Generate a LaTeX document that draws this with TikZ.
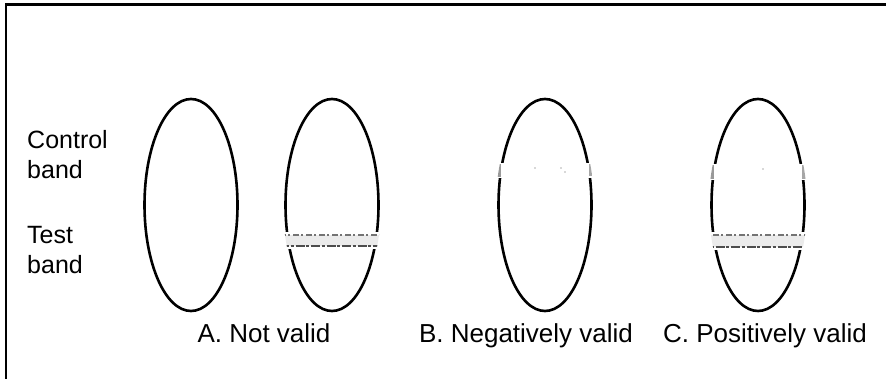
\documentclass[tikz,border=0pt]{standalone}
\usepackage{fontspec}
\setmainfont{Liberation Sans}
\usetikzlibrary{shapes.geometric}
\begin{document}
\begin{tikzpicture}[x=1pt,y=-1pt,
  strip/.style={draw=black, line width=2.6pt, ellipse, inner sep=0pt, minimum width=93pt, minimum height=212pt},
  lbl/.style={inner sep=0pt, font=\fontsize{25}{30}\selectfont},
  captext/.style={inner sep=0pt, font=\fontsize{26}{31}\selectfont},
  frame/.style={line width=2.4pt, black}]
\useasboundingbox (0,0) rectangle (886,379);
\fill[white] (0,0) rectangle (886,379);
% frame (left and top edges visible)
\coordinate (fl) at (6,379);
\coordinate (fc) at (6,4.5);
\coordinate (fr) at (886,4.5);
\draw[frame] (fl) -- (fc) -- (fr);
% side labels
\node[lbl, anchor=north west, align=left] (ctl) at (27,130) {Control\\band};
\node[lbl, anchor=north west, align=left] (tst) at (27,226) {Test\\band};
% strips
\node[strip] (s1) at (191,205) {};
\node[strip] (s2) at (332,205) {};
\node[strip] (s3) at (545,205) {};
\node[strip] (s4) at (758,205) {};
% test band on strip 2
\begin{scope}
  \clip (332,205) ellipse [x radius=49, y radius=106];
  \fill[white] (280,232) rectangle (385,249);
  \fill[black!8] (280,235) rectangle (385,246);
  \draw[black!55, line width=1.3pt, dash pattern=on 6pt off 2pt on 2pt off 3pt] (280,235) -- (385,235);
  \draw[black!70, line width=1.5pt, dash pattern=on 9pt off 1.5pt on 3pt off 2pt] (280,246) -- (385,246);
\end{scope}
% control band on strip 3
\begin{scope}
  \clip (545,205) ellipse [x radius=49, y radius=106];
  \fill[white] (490,163) rectangle (600,178);
  \fill[black!40] (497,164) rectangle (501,177);
  \fill[black!35] (589,164) rectangle (593,176);
  \fill[black!30] (535,168) circle (0.8);
  \fill[black!30] (561,168) circle (0.9);
  \fill[black!30] (565,172) circle (0.8);
\end{scope}
% control and test bands on strip 4
\begin{scope}
  \clip (758,205) ellipse [x radius=49, y radius=106];
  \fill[white] (700,164) rectangle (815,180);
  \fill[black!40] (710,165) rectangle (714,179);
  \fill[black!35] (802,165) rectangle (806,179);
  \fill[black!30] (763,169) circle (0.8);
  \fill[white] (700,232) rectangle (815,250);
  \fill[black!8] (700,235) rectangle (815,247);
  \draw[black!55, line width=1.3pt, dash pattern=on 6pt off 2pt on 2pt off 3pt] (700,235) -- (815,235);
  \draw[black!70, line width=1.5pt, dash pattern=on 9pt off 1.5pt on 3pt off 2pt] (700,247) -- (815,247);
\end{scope}
% captions
\node[captext, anchor=base] (ca) at (264,342) {A. Not valid};
\node[captext, anchor=base] (cb) at (526,342) {B. Negatively valid};
\node[captext, anchor=base] (cc) at (765,342) {C. Positively valid};
\end{tikzpicture}
\end{document}
